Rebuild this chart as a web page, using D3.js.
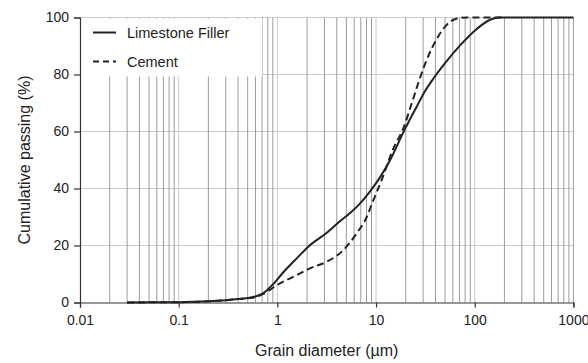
<!DOCTYPE html>
<html>
<head>
<meta charset="utf-8">
<script src="https://cdn.jsdelivr.net/npm/d3@7"></script>
<style>
  html, body { margin: 0; padding: 0; background: #fff; }
  svg { display: block; font-family: "Liberation Sans", Arial, sans-serif; }
</style>
</head>
<body>
<svg id="chart" width="588" height="363"></svg>
<script>
// Particle size distributions: grain diameter (µm) vs cumulative passing (%)
const limestoneDiameter = [0.03, 0.05, 0.1, 0.2, 0.3, 0.4, 0.5, 0.6, 0.72, 0.91, 1.15, 1.57, 2.06, 3.17, 4.3, 5.5, 6.9, 9.05, 11, 13.9, 18.9, 25.8, 31, 38, 48, 71, 105, 143, 180, 1000];
const limestonePassing = [0, 0.05, 0.1, 0.4, 0.8, 1.2, 1.6, 2.1, 3.3, 6.5, 10.6, 15.5, 19.6, 24.5, 28.5, 31.5, 34.8, 39.8, 44, 50, 59.7, 68.7, 73.9, 78.5, 83.2, 90.2, 96, 99.2, 100, 100];

const cementDiameter = [0.03, 0.05, 0.1, 0.2, 0.3, 0.4, 0.5, 0.6, 0.72, 0.99, 1.57, 2.14, 3.17, 4.67, 6.37, 8.05, 9.05, 11.4, 15, 18.9, 23, 26.8, 31, 38, 48, 63, 83, 200];
const cementPassing = [0, 0.05, 0.1, 0.4, 0.8, 1.2, 1.5, 1.9, 3.0, 6.1, 9.6, 12, 14.3, 18.4, 24.3, 30, 34.5, 43, 54.1, 61.1, 69.9, 77, 83.2, 90.2, 96, 99.4, 100, 100];

const seriesNames = ["Limestone Filler", "Cement"];
const xTickValues = [0.01, 0.1, 1, 10, 100, 1000];
const xTickLabels = ["0.01", "0.1", "1", "10", "100", "1000"];
const yTickValues = [0, 20, 40, 60, 80, 100];

const svg = d3.select("#chart");
const margin = { left: 80, right: 14.6, top: 17.5, bottom: 60.5 };
const W = 588, H = 363;
const x = d3.scaleLog().domain([0.01, 1000]).range([margin.left, W - margin.right]);
const y = d3.scaleLinear().domain([0, 100]).range([H - margin.bottom, margin.top]);

// minor decade values 2..9 of every decade, plus decade lines
const minorValues = [];
[0.01, 0.1, 1, 10, 100].forEach(dec => { for (let k = 2; k <= 9; k++) minorValues.push(+(dec * k).toPrecision(3)); });
const majorValues = [0.1, 1, 10, 100, 1000];

const grid = svg.append("g");
grid.selectAll("line.h").data(yTickValues.filter(v => v > 0)).join("line")
  .attr("x1", x(0.01)).attr("x2", x(1000))
  .attr("y1", d => y(d)).attr("y2", d => y(d))
  .attr("stroke", "#cccccc").attr("stroke-width", 1);
grid.selectAll("line.vminor").data(minorValues).join("line")
  .attr("x1", d => x(d)).attr("x2", d => x(d))
  .attr("y1", y(0)).attr("y2", y(100))
  .attr("stroke", "#9c9c9c").attr("stroke-width", 1);
grid.selectAll("line.vmajor").data(majorValues).join("line")
  .attr("x1", d => x(d)).attr("x2", d => x(d))
  .attr("y1", y(0)).attr("y2", y(100))
  .attr("stroke", d => d === 1000 ? "#9c9c9c" : "#cccccc").attr("stroke-width", 1);

// legend panel masks the grid in the upper-left corner
svg.append("rect")
  .attr("x", x(0.01) + 1).attr("y", y(100) + 1)
  .attr("width", x(0.7) - x(0.01) - 1).attr("height", y(80) - y(100) + 1)
  .attr("fill", "#fff");

// axes
const xAxis = d3.axisBottom(x).tickValues(xTickValues).tickFormat((d, i) => xTickLabels[i]).tickSize(5).tickPadding(8);
const gx = svg.append("g").attr("transform", `translate(0,${y(0)})`).call(xAxis);
gx.select(".domain").attr("stroke", "#333").attr("stroke-width", 1.2);
gx.selectAll(".tick line").attr("stroke", "#333").attr("stroke-width", 1.2);
gx.selectAll(".tick text").attr("font-size", 14).attr("fill", "#222").attr("font-family", "Liberation Sans, Arial, sans-serif");

const yAxis = d3.axisLeft(y).tickValues(yTickValues).tickSize(6).tickPadding(5);
const gy = svg.append("g").attr("transform", `translate(${x(0.01)},0)`).call(yAxis);
gy.select(".domain").attr("stroke", "#333").attr("stroke-width", 1.2);
gy.selectAll(".tick line").attr("stroke", "#333").attr("stroke-width", 1.2);
gy.selectAll(".tick text").attr("font-size", 14).attr("fill", "#222").attr("font-family", "Liberation Sans, Arial, sans-serif");

// curves
const line = d3.line().x(d => x(d[0])).y(d => y(d[1])).curve(d3.curveMonotoneX);
const limestone = d3.zip(limestoneDiameter, limestonePassing);
const cement = d3.zip(cementDiameter, cementPassing);

svg.append("path").datum(cement).attr("d", line)
  .attr("fill", "none").attr("stroke", "#222").attr("stroke-width", 2)
  .attr("stroke-dasharray", "7,4");
svg.append("path").datum(limestone).attr("d", line)
  .attr("fill", "none").attr("stroke", "#222").attr("stroke-width", 2);

// legend
const legend = svg.append("g");
const legendRows = [{ name: seriesNames[0], dash: null, cy: 32.5 }, { name: seriesNames[1], dash: "6,4", cy: 61.5 }];
legendRows.forEach(r => {
  legend.append("line").attr("x1", 93).attr("x2", 116).attr("y1", r.cy).attr("y2", r.cy)
    .attr("stroke", "#222").attr("stroke-width", 2).attr("stroke-dasharray", r.dash);
  legend.append("text").attr("x", 127).attr("y", r.cy + 5).attr("font-size", 14.5).attr("fill", "#222").text(r.name);
});

// axis titles
svg.append("text").attr("x", (x(0.01) + x(1000)) / 2).attr("y", 356)
  .attr("text-anchor", "middle").attr("font-size", 16).attr("fill", "#222")
  .text("Grain diameter (\u00b5m)");
svg.append("text").attr("transform", `translate(30,${(y(0) + y(100)) / 2}) rotate(-90)`)
  .attr("text-anchor", "middle").attr("font-size", 16).attr("fill", "#222")
  .text("Cumulative passing (%)");
</script>
</body>
</html>
